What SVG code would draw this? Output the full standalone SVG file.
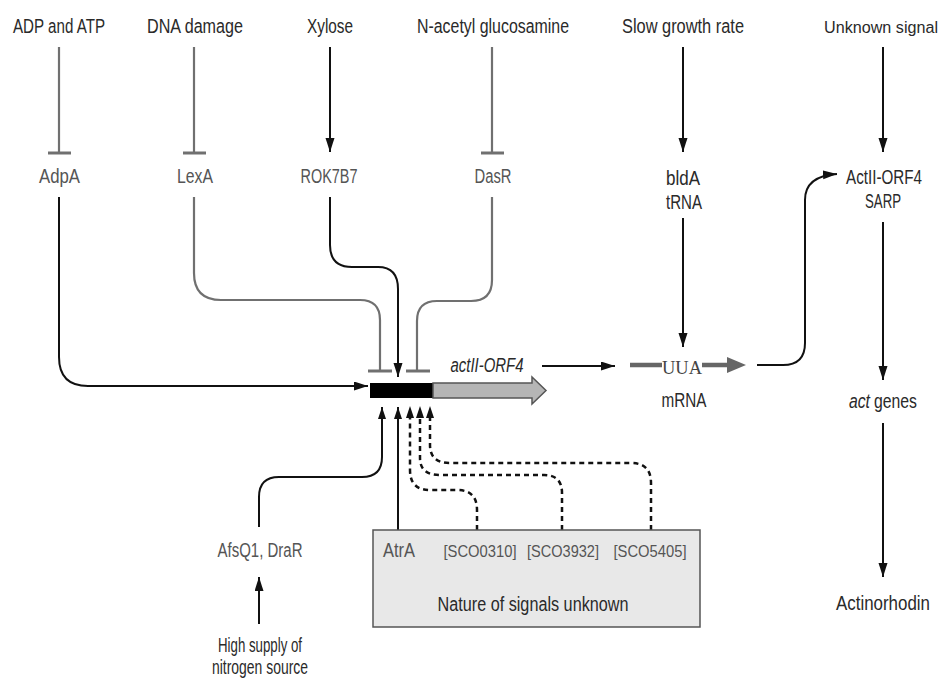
<svg xmlns="http://www.w3.org/2000/svg" width="944" height="681" viewBox="0 0 944 681">
<style>
text{font-family:"Liberation Sans",Arial,sans-serif;font-size:19.5px;text-anchor:middle;fill:#2a2a2a}
.g{fill:#555}
.it{font-style:italic}
.st{text-anchor:start}
.sm{font-size:16.5px}
.xs{font-size:16px}
.ser{font-family:"Liberation Serif",serif;fill:#444}
.act{fill:none;stroke:#111;stroke-width:2}
.inh{fill:none;stroke:#707070;stroke-width:2.2}
.dash{fill:none;stroke:#111;stroke-width:2.5;stroke-dasharray:5 4}
.bar{stroke:#707070;stroke-width:3}
</style>
<defs>
<marker id="ah" markerUnits="userSpaceOnUse" markerWidth="15" markerHeight="10" refX="14" refY="4.5" orient="auto">
<path d="M0,0 L14,4.5 L0,9 z" fill="#111"/>
</marker>
<marker id="ahs" markerUnits="userSpaceOnUse" markerWidth="13" markerHeight="9" refX="12" refY="4" orient="auto">
<path d="M0,0 L12,4 L0,8 z" fill="#111"/>
</marker>
</defs>

<g id="connectors">
<path class="inh" d="M59,47 V153"/><line class="bar" x1="48" y1="153" x2="71" y2="153"/>
<path class="inh" d="M194,47 V153"/><line class="bar" x1="183" y1="153" x2="206" y2="153"/>
<path class="act" d="M330,47 V152" marker-end="url(#ah)"/>
<path class="inh" d="M492,47 V153"/><line class="bar" x1="481" y1="153" x2="504" y2="153"/>
<path class="act" d="M683,47 V152" marker-end="url(#ah)"/>
<path class="act" d="M883,47 V152" marker-end="url(#ah)"/>
<path class="act" d="M59,197 V357 Q59,386 88,386 H368" marker-end="url(#ah)"/>
<path class="inh" d="M194,197 V273 Q194,300 221,300 H360 Q380,300 380,320 V371"/>
<line class="bar" x1="368" y1="371" x2="392" y2="371"/>
<path class="act" d="M330,197 V245 Q330,267 352,267 H378 Q398,267 398,289 V377" marker-end="url(#ah)"/>
<path class="inh" d="M492,197 V280 Q492,301 471,301 H437 Q417,301 417,321 V371"/>
<line class="bar" x1="406" y1="371" x2="430" y2="371"/>
<path class="act" d="M542,366 H615" marker-end="url(#ah)"/>
<path d="M630,365 H662 M702,365 H730" stroke="#666" stroke-width="4.5" fill="none"/>
<polygon points="727,357 746,365 727,373" fill="#666"/>
<path class="act" d="M683,218 V347" marker-end="url(#ah)"/>
<path class="act" d="M757,365 H783 Q805,365 805,343 V200 Q805,176 837,174" marker-end="url(#ah)"/>
<path class="act" d="M883,222 V380" marker-end="url(#ah)"/>
<path class="act" d="M883,423 V577" marker-end="url(#ah)"/>
<path class="act" d="M259,624 V577" marker-end="url(#ah)"/>
<path class="act" d="M259,527 V497 Q259,477 279,477 H362 Q382,477 382,457 V407" marker-end="url(#ahs)"/>
<path class="act" d="M398,530 V407" marker-end="url(#ahs)"/>
<path class="dash" d="M477,530 V510 Q477,490 457,490 H430 Q410,490 410,470 V414"/>
<path class="dash" d="M562,530 V493 Q562,475 544,475 H440 Q420,475 420,458 V414"/>
<path class="dash" d="M651,530 V483 Q651,463 631,463 H450 Q430,463 430,445 V414"/>
<polygon points="406,418 410,406 414,418" fill="#111"/>
<polygon points="416,418 420,406 424,418" fill="#111"/>
<polygon points="426,418 430,406 434,418" fill="#111"/>
</g>

<g id="gene">
<rect x="370" y="383" width="63" height="15" fill="#000"/>
<polygon points="433,383 532,383 532,377 546,390.5 532,404 532,398 433,398" fill="#b5b5b5" stroke="#555" stroke-width="1.5"/>
<text class="it" x="487" y="372" textLength="73" lengthAdjust="spacingAndGlyphs">actII-ORF4</text>
</g>

<g id="n-adp"><text x="59" y="33" textLength="92" lengthAdjust="spacingAndGlyphs">ADP and ATP</text></g>
<g id="n-dna"><text x="195" y="33" textLength="96" lengthAdjust="spacingAndGlyphs">DNA damage</text></g>
<g id="n-xyl"><text x="330" y="33" textLength="46" lengthAdjust="spacingAndGlyphs">Xylose</text></g>
<g id="n-nag"><text x="493" y="33" textLength="152" lengthAdjust="spacingAndGlyphs">N-acetyl glucosamine</text></g>
<g id="n-slow"><text x="683" y="33" textLength="122" lengthAdjust="spacingAndGlyphs">Slow growth rate</text></g>
<g id="n-unk"><text class="xs" x="881" y="33" textLength="114" lengthAdjust="spacingAndGlyphs">Unknown signal</text></g>

<g id="n-adpa"><text class="g" x="59.5" y="183" textLength="41" lengthAdjust="spacingAndGlyphs">AdpA</text></g>
<g id="n-lexa"><text class="g" x="195" y="183" textLength="36" lengthAdjust="spacingAndGlyphs">LexA</text></g>
<g id="n-rok"><text class="g" x="329" y="183" textLength="57" lengthAdjust="spacingAndGlyphs">ROK7B7</text></g>
<g id="n-dasr"><text class="g" x="493" y="183" textLength="37" lengthAdjust="spacingAndGlyphs">DasR</text></g>
<g id="n-blda"><text x="683" y="185" textLength="34" lengthAdjust="spacingAndGlyphs">bldA</text><text x="684" y="209" textLength="36" lengthAdjust="spacingAndGlyphs">tRNA</text></g>
<g id="n-sarp"><text x="884" y="184" textLength="76" lengthAdjust="spacingAndGlyphs">ActII-ORF4</text><text x="883" y="208" textLength="36" lengthAdjust="spacingAndGlyphs">SARP</text></g>

<g id="n-mrna"><text class="ser" x="682" y="374" textLength="40" lengthAdjust="spacingAndGlyphs">UUA</text><text x="684" y="407" textLength="45" lengthAdjust="spacingAndGlyphs">mRNA</text></g>
<g id="n-actg"><text class="it st" x="849" y="408" textLength="21" lengthAdjust="spacingAndGlyphs">act</text><text class="st" x="874" y="408" textLength="43" lengthAdjust="spacingAndGlyphs">genes</text></g>
<g id="n-actino"><text x="883" y="610" textLength="94" lengthAdjust="spacingAndGlyphs">Actinorhodin</text></g>

<g id="n-afsq"><text class="g" x="260" y="557" textLength="85" lengthAdjust="spacingAndGlyphs">AfsQ1, DraR</text></g>
<g id="n-high"><text x="260" y="652" textLength="84" lengthAdjust="spacingAndGlyphs">High supply of</text><text x="260" y="674" textLength="96" lengthAdjust="spacingAndGlyphs">nitrogen source</text></g>

<g id="n-box">
<rect x="373" y="530" width="327" height="97" fill="#e8e8e8" stroke="#555" stroke-width="1.5"/>
<text class="g" x="399" y="557" textLength="32" lengthAdjust="spacingAndGlyphs">AtrA</text>
<text class="g sm" x="480" y="557" textLength="73" lengthAdjust="spacingAndGlyphs">[SCO0310]</text>
<text class="g sm" x="563" y="557" textLength="72" lengthAdjust="spacingAndGlyphs">[SCO3932]</text>
<text class="g sm" x="650" y="557" textLength="73" lengthAdjust="spacingAndGlyphs">[SCO5405]</text>
<text x="533" y="611" textLength="191" lengthAdjust="spacingAndGlyphs">Nature of signals unknown</text>
</g>
</svg>
